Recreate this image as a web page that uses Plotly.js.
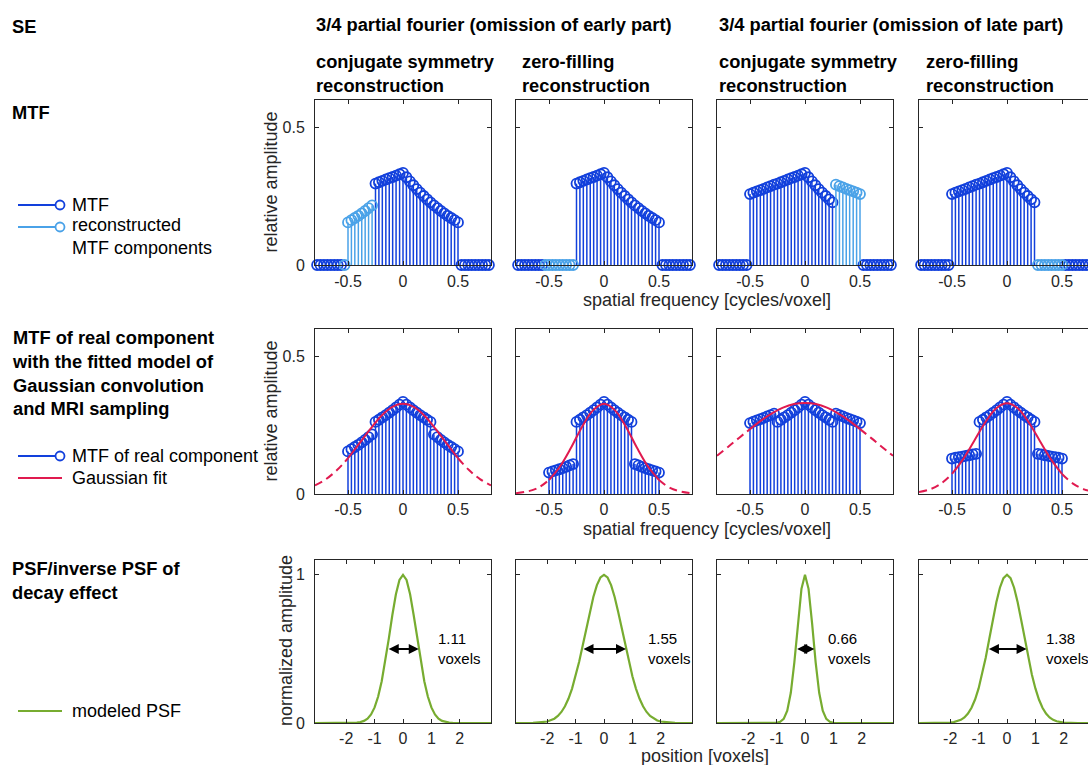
<!DOCTYPE html>
<html><head><meta charset="utf-8">
<script src="https://cdn.plot.ly/plotly-3.0.1.min.js"></script>
<style>html,body{margin:0;padding:0;overflow:hidden;background:#fff}#chart{width:1100px;height:765px}</style>
</head><body><div id="chart"></div>
<script>
const n = null;
// spatial frequency samples [cycles/voxel]
const freq = [-0.781,-0.750,-0.719,-0.688,-0.656,-0.625,-0.594,-0.563,-0.531,-0.500,-0.469,-0.438,-0.406,-0.375,-0.344,-0.313,-0.281,-0.250,-0.219,-0.188,-0.156,-0.125,-0.094,-0.063,-0.031,0,0.031,0.063,0.094,0.125,0.156,0.188,0.219,0.250,0.281,0.313,0.344,0.375,0.406,0.438,0.469,0.500,0.531,0.563,0.594,0.625,0.656,0.688,0.719,0.750,0.781];

// Row 1: MTF (dark) and reconstructed MTF components (light)
const mtfEarlyConj = [0,0,0,0,0,0,0,0,n, n,n,n,n,n,n,n,n, .296,.301,.306,.311,.316,.320,.325,.330,.335, .319,.304,.290,.276,.263,.251,.239,.228,.217,.207,.197,.188,.179,.171,.163,.155, 0,0,0,0,0,0,0,0,0];
const recEarlyConj = [n,n,n,n,n,n,n,n,0, .155,.163,.171,.179,.188,.197,.207,.217, n,n,n,n,n,n,n,n,n, n,n,n,n,n,n,n,n,n,n,n,n,n,n,n,n, n,n,n,n,n,n,n,n,n];
const mtfEarlyZero = [0,0,0,0,0,0,0,0,n, n,n,n,n,n,n,n,n, .296,.301,.306,.311,.316,.320,.325,.330,.335, .319,.304,.290,.276,.263,.251,.239,.228,.217,.207,.197,.188,.179,.171,.163,.155, 0,0,0,0,0,0,0,0,0];
const recEarlyZero = [n,n,n,n,n,n,n,n,0, 0,0,0,0,0,0,0,0, n,n,n,n,n,n,n,n,n, n,n,n,n,n,n,n,n,n,n,n,n,n,n,n,n, n,n,n,n,n,n,n,n,n];
const mtfLateConj = [0,0,0,0,0,0,0,0,0, .258,.263,.268,.272,.277,.282,.287,.292,.296,.301,.306,.311,.316,.320,.325,.330,.335,.319,.304,.290,.276,.263,.251,.239,.228, n,n,n,n,n,n,n,n, 0,0,0,0,0,0,0,0,0];
const recLateConj = [n,n,n,n,n,n,n,n,n, n,n,n,n,n,n,n,n,n,n,n,n,n,n,n,n,n,n,n,n,n,n,n,n,n, .292,.287,.282,.277,.272,.268,.263,.258, n,n,n,n,n,n,n,n,n];
const mtfLateZero = [0,0,0,0,0,0,0,0,0, .258,.263,.268,.272,.277,.282,.287,.292,.296,.301,.306,.311,.316,.320,.325,.330,.335,.319,.304,.290,.276,.263,.251,.239,.228, n,n,n,n,n,n,n,n, 0,0,0,0,0,0,0,0,0];
const recLateZero = [n,n,n,n,n,n,n,n,n, n,n,n,n,n,n,n,n,n,n,n,n,n,n,n,n,n,n,n,n,n,n,n,n,n, 0,0,0,0,0,0,0,0, n,n,n,n,n,n,n,n,n];

// Row 2: MTF of real component (frequencies -0.5 .. 0.5)
const realEarlyConj = [.155,.163,.171,.179,.188,.197,.207,.217, .262,.270,.279,.287,.296,.305,.315,.325, .335, .325,.315,.305,.296,.287,.279,.270,.262, .217,.207,.197,.188,.179,.171,.163,.155];
const realEarlyZero = [.078,.082,.086,.090,.094,.099,.104,.109, .262,.270,.279,.287,.296,.305,.315,.325, .335, .325,.315,.305,.296,.287,.279,.270,.262, .109,.104,.099,.094,.090,.086,.082,.078];
const realLateConj = [.258,.263,.268,.272,.277,.282,.287,.292, .262,.270,.279,.287,.296,.305,.315,.325, .335, .325,.315,.305,.296,.287,.279,.270,.262, .292,.287,.282,.277,.272,.268,.263,.258];
const realLateZero = [.129,.132,.134,.136,.139,.141,.144,.146, .262,.270,.279,.287,.296,.305,.315,.325, .335, .325,.315,.305,.296,.287,.279,.270,.262, .146,.144,.141,.139,.136,.134,.132,.129];
// Gaussian fit
const fitFreq = [-0.8,-0.7,-0.6,-0.5,-0.4,-0.3,-0.2,-0.1,0,0.1,0.2,0.3,0.4,0.5,0.6,0.7,0.8];
const fitEarlyConj = [.031,.054,.087,.130,.182,.235,.283,.316,.328,.316,.283,.235,.182,.130,.087,.054,.031];
const fitEarlyZero = [.003,.009,.022,.051,.100,.168,.244,.304,.328,.304,.244,.168,.100,.051,.022,.009,.003];
const fitLateConj = [.139,.171,.204,.236,.267,.293,.314,.327,.331,.327,.314,.293,.267,.236,.204,.171,.139];
const fitLateZero = [.007,.017,.038,.073,.126,.192,.259,.311,.330,.311,.259,.192,.126,.073,.038,.017,.007];

// Row 3: modeled PSF
const position = [-3.1,-2.5,-2,-1.875,-1.75,-1.625,-1.5,-1.375,-1.25,-1.125,-1,-0.875,-0.75,-0.625,-0.5,-0.375,-0.25,-0.125,0,0.125,0.25,0.375,0.5,0.625,0.75,0.875,1,1.125,1.25,1.375,1.5,1.625,1.75,1.875,2,2.5,3.1];
const psfEarlyConj = [0,0,.0001,.0004,.0010,.0026,.0063,.0142,.0297,.0580,.1054,.1786,.2820,.4152,.5697,.7287,.8688,.9655,1,.9655,.8688,.7287,.5697,.4152,.2820,.1786,.1054,.0580,.0297,.0142,.0063,.0026,.0010,.0004,.0001,0,0];
const psfEarlyZero = [0,.0007,.0099,.0173,.0292,.0475,.0745,.1128,.1648,.2321,.3154,.4133,.5225,.6371,.7494,.8502,.9304,.9821,1,.9821,.9304,.8502,.7494,.6371,.5225,.4133,.3154,.2321,.1648,.1128,.0745,.0475,.0292,.0173,.0099,.0007,0];
const psfLateConj = [0,0,0,0,0,0,0,0,0,.0003,.0017,.0077,.0279,.0832,.2037,.4086,.6718,.9053,1,.9053,.6718,.4086,.2037,.0832,.0279,.0077,.0017,.0003,0,0,0,0,0,0,0,0,0];
const psfLateZero = [0,.0001,.0030,.0060,.0116,.0214,.0378,.0638,.1028,.1584,.2332,.3280,.4409,.5663,.6949,.8149,.9130,.9775,1,.9775,.9130,.8149,.6949,.5663,.4409,.3280,.2332,.1584,.1028,.0638,.0378,.0214,.0116,.0060,.0030,.0001,0];
const fwhm = [1.11, 1.55, 0.66, 1.38];

// tick labels
const freqTicks = [-0.5, 0, 0.5], freqTickText = ['-0.5', '0', '0.5'];
const posTicks = [-2, -1, 0, 1, 2], posTickText = ['-2', '-1', '0', '1', '2'];
const ampTicks = [0, 0.5], ampTickText = ['0', '0.5'];
const normTicks = [0, 1], normTickText = ['0', '1'];

const topMtf = [mtfEarlyConj, mtfEarlyZero, mtfLateConj, mtfLateZero];
const topRec = [recEarlyConj, recEarlyZero, recLateConj, recLateZero];
const realMtf = [realEarlyConj, realEarlyZero, realLateConj, realLateZero];
const fits = [fitEarlyConj, fitEarlyZero, fitLateConj, fitLateZero];
const psfs = [psfEarlyConj, psfEarlyZero, psfLateConj, psfLateZero];

// ---------- layout helpers ----------
const W = 1100, H = 765;
const colLeft = [315, 516, 717, 919], colW = 176;
const rowsPx = [[100, 265], [329, 494], [560, 723]];
const px = x => x / W, py = y => 1 - y / H;
const DARK = '#1240dc', LIGHT = '#4aa2e8', RED = '#e01a4f', GREEN = '#77ac30', AX = '#262626';
const FONT = 'Liberation Sans, Arial, Helvetica, sans-serif';

const traces = [];
const layout = {
  width: W, height: H, margin: {l: 0, r: 0, t: 0, b: 0},
  paper_bgcolor: '#fff', plot_bgcolor: '#fff', showlegend: false,
  font: {family: FONT, color: AX},
  annotations: [], shapes: []
};
function axName(r, c) { const k = r * 4 + c + 1; return k === 1 ? '' : String(k); }

for (let r = 0; r < 3; r++) {
  for (let c = 0; c < 4; c++) {
    const s = axName(r, c);
    const common = {ticks: 'inside', ticklen: 4, tickwidth: 1, tickcolor: AX, showline: true, linecolor: AX, linewidth: 1,
      mirror: 'ticks', showgrid: false, zeroline: false, tickfont: {family: FONT, size: 16, color: AX}, fixedrange: true};
    layout['xaxis' + s] = Object.assign({}, common, {
      domain: [px(colLeft[c]), px(colLeft[c] + colW)], anchor: 'y' + s,
      range: r < 2 ? [-0.8, 0.8] : [-3.1, 3.1],
      tickmode: 'array', tickvals: r < 2 ? freqTicks : posTicks, ticktext: r < 2 ? freqTickText : posTickText,
      ticklabelstandoff: r === 0 ? 2 : 1
    });
    layout['yaxis' + s] = Object.assign({}, common, {
      domain: [py(rowsPx[r][1]), py(rowsPx[r][0])], anchor: 'x' + s,
      range: r < 2 ? [0, 0.6] : [0, 1.1],
      tickmode: 'array', tickvals: r < 2 ? ampTicks : normTicks, ticktext: r < 2 ? ampTickText : normTickText,
      showticklabels: c === 0, ticklabelstandoff: 6
    });
    const xa = 'x' + s, ya = 'y' + s;
    if (r === 0) {
      [[topMtf[c], DARK], [topRec[c], LIGHT]].forEach(([ys, col]) => {
        traces.push({type: 'scatter', mode: 'markers', x: freq, y: ys, xaxis: xa, yaxis: ya, cliponaxis: false,
          marker: {symbol: 'circle-open', size: 10, color: col, line: {width: 1.8, color: col}},
          error_y: {type: 'data', symmetric: false, array: ys.map(() => 0), arrayminus: ys.map(v => v === null ? 0 : v),
            color: col, thickness: 1.5, width: 0}, hoverinfo: 'skip'});
      });
    } else if (r === 1) {
      const fx = freq.slice(9, 42);
      const ys = realMtf[c];
      traces.push({type: 'scatter', mode: 'markers', x: fx, y: ys, xaxis: xa, yaxis: ya, cliponaxis: false,
        marker: {symbol: 'circle-open', size: 10, color: DARK, line: {width: 1.8, color: DARK}},
        error_y: {type: 'data', symmetric: false, array: ys.map(() => 0), arrayminus: ys, color: DARK, thickness: 1.5, width: 0},
        hoverinfo: 'skip'});
      const f = fits[c];
      const inX = [], inY = [], outX = [], outY = [];
      fitFreq.forEach((x, i) => {
        if (Math.abs(x) <= 0.5 + 1e-9) { inX.push(x); inY.push(f[i]); }
        if (x <= -0.5 + 1e-9) { outX.push(x); outY.push(f[i]); }
      });
      outX.push(null); outY.push(null);
      fitFreq.forEach((x, i) => { if (x >= 0.5 - 1e-9) { outX.push(x); outY.push(f[i]); } });
      traces.push({type: 'scatter', mode: 'lines', x: outX, y: outY, xaxis: xa, yaxis: ya, connectgaps: false,
        line: {color: RED, width: 2, dash: '8px,5px', shape: 'spline', smoothing: 1}, hoverinfo: 'skip'});
      traces.push({type: 'scatter', mode: 'lines', x: inX, y: inY, xaxis: xa, yaxis: ya,
        line: {color: RED, width: 2, shape: 'spline', smoothing: 1}, hoverinfo: 'skip'});
    } else {
      traces.push({type: 'scatter', mode: 'lines', x: position, y: psfs[c], xaxis: xa, yaxis: ya,
        line: {color: GREEN, width: 2.2}, hoverinfo: 'skip'});
      const w = fwhm[c];
      layout.annotations.push({xref: xa, yref: ya, axref: xa, ayref: ya, x: w / 2, y: 0.5, ax: -w / 2, ay: 0.5,
        text: '', showarrow: true, arrowhead: 2, arrowside: 'end+start', arrowsize: 1, arrowwidth: 2,
        arrowcolor: '#000', standoff: 0, startstandoff: 0});
      const textX = [1.15, 1.47, 0.75, 1.30][c];
      layout.annotations.push({xref: xa, yref: ya, x: textX, y: 0.5, xanchor: 'left', yanchor: 'middle', align: 'left',
        text: w.toFixed(2) + '<br>voxels', showarrow: false, font: {family: FONT, size: 15, color: '#000'}});
    }
  }
}

function txt(text, x, y, opts) {
  layout.annotations.push(Object.assign({xref: 'paper', yref: 'paper', x: px(x), y: py(y), text: text, showarrow: false,
    xanchor: 'left', yanchor: 'middle', align: 'left', font: {family: FONT, size: 18, color: '#000'}}, opts || {}));
}
const bold = s => '<b>' + s + '</b>';
const hfont = {font: {family: FONT, size: 18.3, color: '#000'}};
txt(bold('SE'), 10, 27, hfont);
txt(bold('3/4 partial fourier (omission of early part)'), 314, 25, hfont);
txt(bold('3/4 partial fourier (omission of late part)'), 717, 25, hfont);
txt(bold('conjugate symmetry<br>reconstruction'), 314, 73.5, hfont);
txt(bold('zero-filling<br>reconstruction'), 520, 73.5, hfont);
txt(bold('conjugate symmetry<br>reconstruction'), 717, 73.5, hfont);
txt(bold('zero-filling<br>reconstruction'), 924, 73.5, hfont);
txt(bold('MTF'), 10, 112, hfont);
txt(bold('MTF of real component<br>with the fitted model of<br>Gaussian convolution<br>and MRI sampling'), 10, 373, hfont);
txt(bold('PSF/inverse PSF of<br>decay effect'), 10, 580.5, hfont);
// legends
txt('MTF', 70, 205);
txt('reconstructed<br>MTF components', 70, 236);
txt('MTF of real component', 70, 456);
txt('Gaussian fit', 70, 478);
txt('modeled PSF', 70, 711);
// axis titles
const axTitle = {font: {family: FONT, size: 18, color: AX}, xanchor: 'center', align: 'center'};
txt('relative amplitude', 270, 182.5, Object.assign({textangle: -90}, axTitle));
txt('relative amplitude', 270, 411.5, Object.assign({textangle: -90}, axTitle));
txt('normalized amplitude', 286, 641, Object.assign({textangle: -90}, axTitle));
txt('spatial frequency [cycles/voxel]', 707, 300, axTitle);
txt('spatial frequency [cycles/voxel]', 707, 529, axTitle);
txt('position [voxels]', 705, 756, axTitle);

// legend glyphs
function gLine(x0, x1, y, col) {
  layout.shapes.push({type: 'line', xref: 'paper', yref: 'paper', x0: px(x0), x1: px(x1), y0: py(y), y1: py(y), line: {color: col, width: 2}});
}
function gCircle(cx, cy, col) {
  layout.shapes.push({type: 'circle', xref: 'paper', yref: 'paper', x0: px(cx - 4.5), x1: px(cx + 4.5), y0: py(cy + 4.5), y1: py(cy - 4.5),
    line: {color: col, width: 1.8}, fillcolor: '#fff'});
}
gLine(18, 56, 205, DARK); gCircle(60, 205, DARK);
gLine(18, 56, 227, LIGHT); gCircle(60, 227, LIGHT);
gLine(18, 56, 456, DARK); gCircle(60, 456, DARK);
gLine(18, 62, 478, RED);
gLine(18, 62, 711, GREEN);

Plotly.newPlot('chart', traces, layout, {staticPlot: true, displayModeBar: false});
</script>
</body></html>
